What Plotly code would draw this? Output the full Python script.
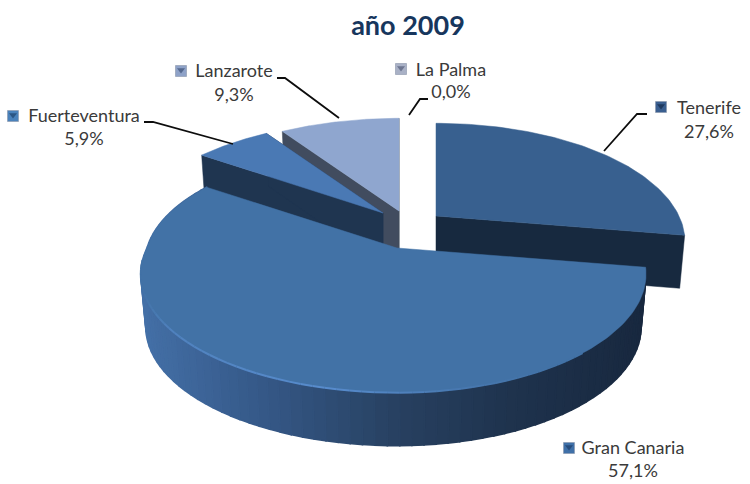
import math
import plotly.graph_objects as go

# ---- data ----
islands = ["Tenerife", "Gran Canaria", "Fuerteventura", "Lanzarote", "La Palma"]
shares = [27.6, 57.1, 5.9, 9.3, 0.0]
title_text = "año 2009"

# ---- drawing styles ----
top_colors = {"Tenerife": "#38608f", "Gran Canaria": "#4272a6", "Fuerteventura": "#4a79b4", "Lanzarote": "#8fa6cf"}
wall_colors = {"Tenerife": "#17293f", "Fuerteventura": "#1f3550", "Lanzarote": "#414c5f"}
apex = {"Tenerife": (436, 216), "Gran Canaria": (397, 248), "Fuerteventura": (383, 213), "Lanzarote": (399, 211)}
radius = {"Tenerife": 243, "Gran Canaria": 250, "Fuerteventura": 250, "Lanzarote": 250}
radius_right_gc = 243
marker_colors = {"Tenerife": "#3a5f90", "Gran Canaria": "#3f70a8", "Fuerteventura": "#4a82bb", "Lanzarote": "#8ea2c8", "La Palma": "#a9b1c6"}
marker_centers = {"Tenerife": "#1f3a60", "Gran Canaria": "#274c7c", "Fuerteventura": "#2b5684", "Lanzarote": "#55698f", "La Palma": "#6d7690"}
label_pos = {"Tenerife": (709, 109, 133, 661, 107), "Gran Canaria": (633, 449, 472, 569, 448),
             "Fuerteventura": (84, 117, 140, 13, 116), "Lanzarote": (234, 72, 96, 181, 71), "La Palma": (451, 71, 93, 401, 69)}
leaders = {"Tenerife": ([604, 637, 647], [151, 114, 114]), "Fuerteventura": ([233, 153, 144], [144, 122, 122]),
           "Lanzarote": ([339, 285, 277], [118, 78, 78]), "La Palma": ([409, 420, 428], [115, 99, 99])}
PERSP, DEPTH, THICK = 0.219, 113, 53


def project(name, deg, frac=1.0, drop=0.0):
    """Tilted-disc perspective projection of a pie angle (clockwise from 12 o'clock)."""
    a = math.radians(deg)
    u, v = frac * math.sin(a), frac * math.cos(a)
    s = 1 / (1 + PERSP * v)
    if name == "Gran Canaria":
        s *= 1 + 0.05 * max(0.0, v) / 0.57
    cx, cy = apex[name]
    k = 1 - 0.02 * (drop > 0)
    r = radius_right_gc if (name == "Gran Canaria" and u > 0) else radius[name]
    return cx + r * u * s * k, cy - DEPTH * v * s + drop


def arc(name, a0, a1, drop=0.0, n=80):
    return [project(name, a0 + (a1 - a0) * i / n, 1.0, drop) for i in range(n + 1)]


def mix(stops, x):
    if x <= stops[0][0]:
        return stops[0][1]
    for (x0, c0), (x1, c1) in zip(stops, stops[1:]):
        if x <= x1:
            t = (x - x0) / (x1 - x0)
            return tuple(c0[i] + (c1[i] - c0[i]) * t for i in range(3))
    return stops[-1][1]


def rgb(c):
    return "rgb(%d,%d,%d)" % tuple(round(v) for v in c)


fig = go.Figure()


def poly(pts, color, lw=0.5):
    fig.add_trace(go.Scatter(x=[p[0] for p in pts] + [pts[0][0]], y=[p[1] for p in pts] + [pts[0][1]],
                             mode="lines", fill="toself", fillcolor=color, line=dict(color=color, width=lw),
                             hoverinfo="skip", showlegend=False))


total = sum(shares)
spans, start = {}, 0.0
for name, val in zip(islands, shares):
    spans[name] = (start, start + 360 * val / total)
    start = spans[name][1]

for name in ["Tenerife", "Lanzarote", "Fuerteventura"]:
    a0, a1 = spans[name]
    c = apex[name]
    if name == "Tenerife":
        e = project(name, a1)
        poly([c, e, project(name, a1, 1, THICK), (c[0], c[1] + THICK)], wall_colors[name])
    else:
        e = project(name, a0)
        poly([c, e, project(name, a0, 1, THICK), (c[0], c[1] + THICK)], wall_colors[name])
        e2 = project(name, a1)
        poly([c, e2, project(name, a1, 1, THICK), (c[0], c[1] + THICK)], wall_colors[name])
    poly([c] + arc(name, a0, a1), top_colors[name])

# Gran Canaria: shaded outer wall, then the top face and its lit rim
name = "Gran Canaria"
a0, a1 = spans[name]
wall_stops = [(140, (68, 112, 167)), (250, (54, 90, 138)), (400, (39, 64, 96)), (520, (30, 50, 76)), (645, (24, 40, 63))]
N = 90
for i in range(N):
    b0 = a0 + (a1 - a0) * i / N
    b1 = a0 + (a1 - a0) * (i + 1) / N
    p0, p1 = project(name, b0), project(name, b1)
    poly([p0, p1, project(name, b1, 1, THICK), project(name, b0, 1, THICK)],
         rgb(mix(wall_stops, (p0[0] + p1[0]) / 2)), lw=1.6)
poly([apex[name]] + arc(name, a0, a1, n=160), top_colors[name])
rim_stops = [(142, (66, 114, 166)), (175, (80, 130, 190)), (330, (88, 140, 205)), (470, (72, 120, 175)), (560, (66, 114, 166))]
for i in range(N):
    b0 = a0 + (a1 - a0) * i / N
    b1 = a0 + (a1 - a0) * (i + 1) / N
    p0, p1 = project(name, b0), project(name, b1)
    if 140 < b0 < 262:
        fig.add_trace(go.Scatter(x=[p0[0], p1[0]], y=[p0[1], p1[1]], mode="lines",
                                 line=dict(color=rgb(mix(rim_stops, p0[0])), width=2),
                                 hoverinfo="skip", showlegend=False))

# leader lines
for name, (xs, ys) in leaders.items():
    fig.add_trace(go.Scatter(x=xs, y=ys, mode="lines", line=dict(color="#0d0d0d", width=1.8),
                             hoverinfo="skip", showlegend=False))

# labels and key squares
for name, val in zip(islands, shares):
    x, y1, y2, mx, my = label_pos[name]
    pct = f"{val:.1f}%".replace(".", ",")
    fig.add_trace(go.Scatter(x=[x, x], y=[y1, y2], mode="text", text=[name, pct], textposition="middle center",
                             textfont=dict(family="Lato", size=18, color="#3a3a3a"),
                             hoverinfo="skip", showlegend=False))
    fig.add_trace(go.Scatter(x=[mx], y=[my], mode="markers",
                             marker=dict(symbol="square", size=11, color=marker_colors[name],
                                         line=dict(color="#8a96aa", width=0.6)),
                             hoverinfo="skip", showlegend=False))
    fig.add_trace(go.Scatter(x=[mx], y=[my - 1], mode="markers",
                             marker=dict(symbol="triangle-down", size=7, color=marker_centers[name], line=dict(width=0)),
                             hoverinfo="skip", showlegend=False))

fig.add_trace(go.Scatter(x=[408], y=[28], mode="text", text=[title_text], textposition="middle center",
                         textfont=dict(family="Lato", size=27, color="#17365d", weight="bold"),
                         hoverinfo="skip", showlegend=False))

fig.update_layout(width=750, height=484, margin=dict(l=0, r=0, t=0, b=0), paper_bgcolor="white", plot_bgcolor="white",
                  xaxis=dict(range=[0, 750], visible=False, fixedrange=True),
                  yaxis=dict(range=[484, 0], visible=False, fixedrange=True))
fig.write_html("out.html", config={"displayModeBar": False},
               post_script="document.body.style.margin='0';document.documentElement.style.overflow='hidden';")
